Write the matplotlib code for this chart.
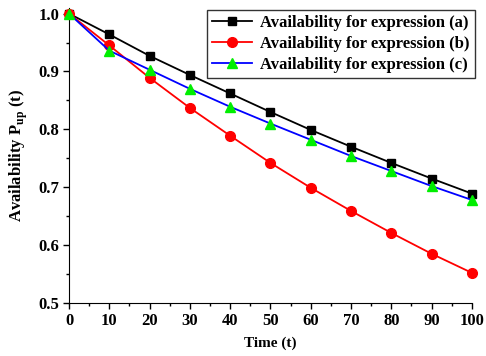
import numpy as np
import matplotlib.pyplot as plt
from matplotlib.ticker import MultipleLocator

plt.rcParams['font.family'] = ['Liberation Serif', 'DejaVu Serif']
plt.rcParams['font.weight'] = 'bold'
plt.rcParams['mathtext.fontset'] = 'custom'
plt.rcParams['mathtext.rm'] = 'Liberation Serif:bold'
plt.rcParams['mathtext.bf'] = 'Liberation Serif:bold'

# Data
t = [0, 10, 20, 30, 40, 50, 60, 70, 80, 90, 100]
avail_a = [1.0, 0.964, 0.927, 0.894, 0.862, 0.830, 0.799, 0.770, 0.742, 0.715, 0.689]
avail_b = [1.0, 0.945, 0.889, 0.837, 0.789, 0.742, 0.699, 0.659, 0.621, 0.585, 0.552]
avail_c = [1.0, 0.936, 0.903, 0.870, 0.839, 0.810, 0.782, 0.754, 0.728, 0.702, 0.678]

fig = plt.figure(figsize=(4.86, 3.56), dpi=100)
ax = fig.add_axes([0.142, 0.149, 0.829, 0.829])

ax.plot(t, avail_a, color='black', marker='s', markersize=6, lw=1.3,
        label='Availability for expression (a)', clip_on=False, zorder=3)
ax.plot(t, avail_b, color='red', marker='o', markersize=7, lw=1.3,
        label='Availability for expression (b)', clip_on=False, zorder=3)
ax.plot(t, avail_c, color='blue', marker='^', markersize=7.5, lw=1.3,
        markerfacecolor='#00ee00', markeredgecolor='#00ee00',
        label='Availability for expression (c)', clip_on=False, zorder=3)

ax.set_xlim(0, 100)
ax.set_ylim(0.5, 1.01)
ax.xaxis.set_major_locator(MultipleLocator(10))
ax.xaxis.set_minor_locator(MultipleLocator(5))
ax.yaxis.set_major_locator(MultipleLocator(0.1))
ax.yaxis.set_minor_locator(MultipleLocator(0.05))
ax.yaxis.set_major_formatter(plt.FuncFormatter(lambda v, p: f"{v:.1f}"))
ax.spines['top'].set_visible(False)
ax.spines['right'].set_visible(False)
ax.tick_params(which='major', direction='out', length=4, width=1, labelsize=12, pad=3)
ax.tick_params(which='minor', direction='out', length=2.5, width=1)

ax.set_xlabel('Time (t)', fontsize=11, fontweight='bold', labelpad=6)
ax.set_ylabel(r'Availability P$_{\mathrm{up}}$ (t)', fontsize=12, fontweight='bold', labelpad=6)

leg = ax.legend(loc='upper right', bbox_to_anchor=(1.015, 1.005), fontsize=12,
                frameon=True, fancybox=False, edgecolor='black',
                handlelength=2.4, handletextpad=0.5, borderpad=0.3,
                labelspacing=0.3, borderaxespad=0.2)
leg.get_frame().set_linewidth(1)

fig.savefig('out.png', dpi=100)
